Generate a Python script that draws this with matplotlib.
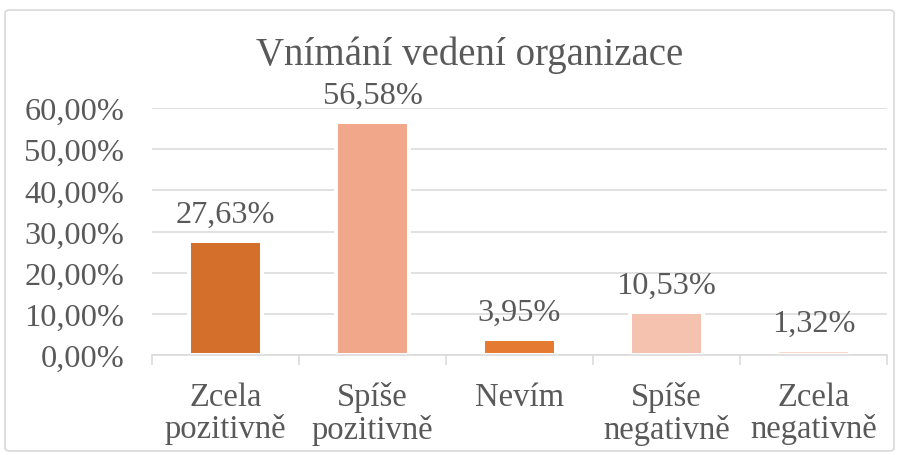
import matplotlib
matplotlib.use("Agg")
import matplotlib.pyplot as plt
from matplotlib.patches import FancyBboxPatch
from matplotlib.ticker import FixedLocator, FuncFormatter

categories = ["Zcela\npozitivně", "Spíše\npozitivně", "Nevím", "Spíše\nnegativně", "Zcela\nnegativně"]
values = [27.63, 56.58, 3.95, 10.53, 1.32]
value_labels = ["27,63%", "56,58%", "3,95%", "10,53%", "1,32%"]
colors = ["#D46F2B", "#F0A78A", "#E57B32", "#F4C2AF", "#FBD6CA"]
y_ticks = [0, 10, 20, 30, 40, 50, 60]
title = "Vnímání vedení organizace"

plt.rcParams['font.family'] = ['Liberation Serif', 'DejaVu Serif']
txt = "#595959"
grid_c = "#D9D9D9"

W, H = 901, 456
fig = plt.figure(figsize=(W / 100, H / 100), dpi=100)

# chart border
border = FancyBboxPatch((5 / W, 4 / H), 889 / W, 441 / H,
                        boxstyle="round,pad=0,rounding_size=0.006",
                        transform=fig.transFigure, facecolor="none",
                        edgecolor=grid_c, linewidth=1.2, zorder=0)
fig.patches.append(border)

left, right = 152 / W, 887 / W
bottom = (H - 356) / H
top = (H - 109) / H
ax = fig.add_axes([left, bottom, right - left, top - bottom])
ax.set_facecolor("none")
ax.set_zorder(2)

x = list(range(len(categories)))
ax.bar(x, values, width=0.5, color=colors, edgecolor="white", linewidth=2.9, zorder=3)

ax.set_xlim(-0.5, len(categories) - 0.5)
ax.set_ylim(0, 60)
ax.yaxis.set_major_locator(FixedLocator(y_ticks))
ax.yaxis.set_major_formatter(FuncFormatter(lambda v, p: f"{v:.2f}".replace(".", ",") + "%"))
ax.grid(axis="y", color=grid_c, linewidth=1.1, zorder=0)
ax.set_axisbelow(True)

for s in ["top", "right", "left"]:
    ax.spines[s].set_visible(False)
ax.spines["bottom"].set_color(grid_c)
ax.spines["bottom"].set_linewidth(1.1)
ax.spines["bottom"].set_zorder(4)

ax.tick_params(axis="y", length=0, pad=20, labelsize=23.3, labelcolor=txt)
ax.set_xticks(x)
ax.set_xticklabels(categories, fontsize=23.5, color=txt, linespacing=1.05)
ax.tick_params(axis="x", which="major", length=0, pad=19)
ax.set_xticks([i - 0.5 for i in range(len(categories) + 1)], minor=True)
ax.tick_params(axis="x", which="minor", length=7, width=1.1, color=grid_c, direction="out")

for xi, v, lab in zip(x, values, value_labels):
    ax.annotate(lab, (xi, v), xytext=(0, 19), textcoords="offset pixels",
                ha="center", va="baseline", fontsize=23.3, color=txt, zorder=5,
                annotation_clip=False)

fig.text(470 / W, (H - 65) / H, title, ha="center", va="baseline", fontsize=28, color=txt)

fig.savefig("out.png", dpi=100)
